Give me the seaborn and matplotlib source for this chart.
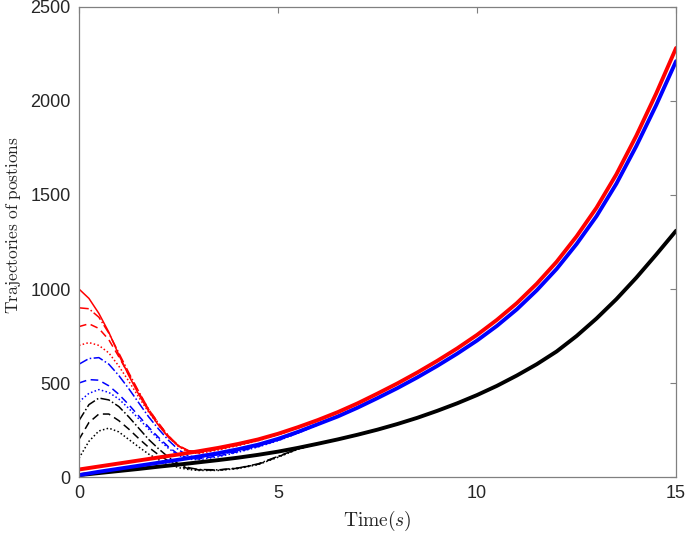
import matplotlib
matplotlib.use("Agg")
import matplotlib.pyplot as plt
import seaborn as sns
import pandas as pd

# ---- data ----
t_leader = [0, 0.5, 1, 1.5, 2, 2.5, 3, 3.5, 4, 4.5, 5, 5.5, 6, 6.5, 7, 7.5,
            8, 8.5, 9, 9.5, 10, 10.5, 11, 11.5, 12, 12.5, 13, 13.5, 14, 14.5, 15]
red_leader = [40, 56, 72, 88, 104, 120, 137, 155, 176, 200, 230, 265, 303, 345, 392, 444,
              498, 556, 618, 684, 756, 836, 925, 1028, 1145, 1280, 1432, 1610, 1815, 2040, 2282]
blue_leader = [10, 28, 44, 60, 76, 92, 109, 127, 148, 172, 203, 240, 281, 322, 369, 420,
               473, 530, 591, 656, 726, 804, 892, 993, 1107, 1239, 1387, 1560, 1760, 1978, 2212]
black_leader = [10, 21, 32, 43, 55, 66, 78, 90, 103, 118, 135, 155, 177, 200, 225, 252,
                282, 315, 352, 392, 436, 485, 540, 600, 668, 750, 843, 946, 1060, 1183, 1310]

t_follow = [0, 0.25, 0.5, 0.75, 1.0, 1.25, 1.5, 1.75, 2.0, 2.25, 2.5, 2.75, 3.0, 3.5, 4.0, 4.5, 5.0, 5.5, 6.0]
red_1000 = [1000, 950, 870, 770, 650, 540, 440, 350, 275, 210, 165, 140, 137, 155, 176, 200, 230, 265, 303]
red_900 = [900, 895, 850, 765, 660, 555, 455, 360, 285, 218, 168, 140, 133, 152, 174, 198, 228, 263, 301]
red_800 = [800, 815, 790, 730, 640, 545, 450, 360, 285, 218, 165, 135, 128, 148, 170, 195, 226, 262, 300]
red_700 = [700, 715, 700, 660, 590, 510, 425, 345, 275, 212, 162, 132, 124, 144, 167, 193, 224, 260, 299]
blue_600 = [600, 630, 635, 600, 540, 470, 395, 320, 255, 195, 145, 112, 104, 118, 140, 165, 197, 236, 279]
blue_500 = [500, 518, 515, 485, 440, 385, 325, 265, 210, 160, 120, 100, 96, 112, 135, 162, 195, 234, 278]
blue_400 = [400, 445, 465, 450, 415, 365, 310, 255, 200, 152, 115, 95, 92, 108, 132, 160, 193, 233, 278]
black_300 = [300, 385, 420, 410, 375, 320, 260, 200, 150, 105, 70, 50, 40, 38, 48, 70, 110, 150, 177]
black_200 = [200, 290, 335, 335, 300, 255, 205, 158, 118, 85, 60, 45, 38, 37, 47, 68, 108, 149, 177]
black_100 = [100, 190, 245, 260, 240, 200, 160, 122, 92, 68, 50, 40, 35, 35, 45, 66, 105, 148, 177]

x_ticks = [0, 5, 10, 15]
y_ticks = [0, 500, 1000, 1500, 2000, 2500]

# ---- style ----
sns.set_style("white")
plt.rcParams["font.family"] = ["Liberation Sans", "DejaVu Sans"]
plt.rcParams["mathtext.fontset"] = "cm"

fig = plt.figure(figsize=(6.85, 5.37), dpi=100)
ax = fig.add_axes([0.1153, 0.1117, 0.8717, 0.8753])

followers = [
    (red_1000, "#ff0000", "-"),
    (red_900, "#ff0000", "-."),
    (red_800, "#ff0000", (0, (5, 3))),
    (red_700, "#ff0000", (0, (1, 1.5))),
    (blue_600, "#0000ff", "-."),
    (blue_500, "#0000ff", (0, (5, 3))),
    (blue_400, "#0000ff", (0, (1, 1.5))),
    (black_300, "#000000", "-."),
    (black_200, "#000000", (0, (5, 3))),
    (black_100, "#000000", (0, (1, 1.5))),
]
for vals, col, ls in followers:
    df = pd.DataFrame({"t": t_follow, "v": vals})
    sns.lineplot(data=df, x="t", y="v", color=col, linestyle=ls, lw=1.1,
                 ax=ax, estimator=None, sort=False)

for vals, col in [(black_leader, "#000000"), (blue_leader, "#0000ff"), (red_leader, "#ff0000")]:
    df = pd.DataFrame({"t": t_leader, "v": vals})
    sns.lineplot(data=df, x="t", y="v", color=col, lw=2.8, ax=ax,
                 estimator=None, sort=False, solid_capstyle="round")

ax.set_xlim(0, 15)
ax.set_ylim(0, 2500)
ax.set_xticks(x_ticks)
ax.set_yticks(y_ticks)
ax.set_xticklabels([str(v) for v in x_ticks])
ax.set_yticklabels([str(v) for v in y_ticks])
ax.tick_params(direction="in", top=True, right=True, length=4.5, width=0.8,
               labelsize=13, colors="#7f7f7f", labelcolor="#262626", pad=6)
for s in ax.spines.values():
    s.set_color("#808080")
    s.set_linewidth(0.9)

ax.set_xlabel(r"$\mathrm{Time}(s)$", fontsize=14, color="#262626", va="center")
ax.xaxis.set_label_coords(0.5, -0.094)
ax.set_ylabel(r"$\mathrm{Trajectories\ of\ postions}$", fontsize=12.5, color="#262626", va="center")
ax.yaxis.set_label_coords(-0.11, 0.536)

fig.savefig("out.png", dpi=100)
